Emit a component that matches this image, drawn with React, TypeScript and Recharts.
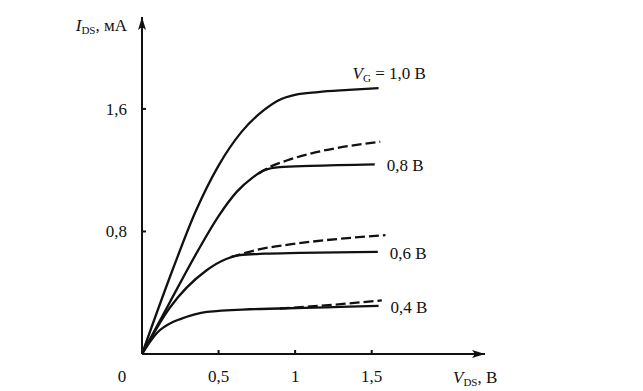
import React from 'react';
import { LineChart, Line, XAxis, YAxis } from 'recharts';

// V_G = 1.0 V (solid)
const vg10V = [0, 0.2, 0.35, 0.5, 0.65, 0.8, 0.9, 1.0, 1.15, 1.35, 1.545];
const vg10I = [0, 0.55, 0.93, 1.23, 1.45, 1.595, 1.66, 1.692, 1.71, 1.724, 1.736];
// V_G = 0.8 V
const vg08V = [0, 0.18, 0.36, 0.5, 0.62, 0.72, 0.8, 0.9, 1.1, 1.52];
const vg08I = [0, 0.335, 0.665, 0.9, 1.06, 1.15, 1.2, 1.22, 1.228, 1.238];
const vg08DashV = [0.76, 0.85, 0.967, 1.556];
const vg08DashI = [1.178, 1.228, 1.27, 1.386];
// V_G = 0.6 V
const vg06V = [0, 0.18, 0.42, 0.55, 0.64, 0.8, 1.03, 1.54];
const vg06I = [0, 0.3, 0.545, 0.62, 0.645, 0.655, 0.66, 0.667];
const vg06DashV = [0.58, 0.75, 0.967, 1.59];
const vg06DashI = [0.632, 0.68, 0.715, 0.776];
// V_G = 0.4 V
const vg04V = [0, 0.096, 0.205, 0.25, 0.423, 0.7, 0.9, 1.2, 1.545];
const vg04I = [0, 0.136, 0.21, 0.228, 0.275, 0.292, 0.297, 0.305, 0.314];
const vg04DashV = [0.9, 1.1, 1.566];
const vg04DashI = [0.297, 0.31, 0.35];

const xTicks = [0, 0.5, 1, 1.5];
const yTicks = [0.8, 1.6];
const xTickLabels = ['0', '0,5', '1', '1,5'];
const yTickLabels = ['0,8', '1,6'];

const toData = (v: number[], i: number[]) => v.map((x, k) => ({ v: x, i: i[k] }));

const FONT = '"Liberation Serif", "Times New Roman", serif';
const INK = '#111';

const XTick = (props: any) => {
  const { x, y, payload } = props;
  const idx = xTicks.indexOf(payload.value);
  const label = idx >= 0 ? xTickLabels[idx] : String(payload.value);
  if (payload.value === 0) {
    return (
      <text x={x - 20} y={y + 28} textAnchor="middle" fontFamily={FONT} fontSize={17} fill={INK}>
        {label}
      </text>
    );
  }
  return (
    <g>
      <line x1={x} y1={y} x2={x} y2={y - 4} stroke={INK} strokeWidth={2} />
      <text x={x} y={y + 28} textAnchor="middle" fontFamily={FONT} fontSize={17} fill={INK}>
        {label}
      </text>
    </g>
  );
};

const YTick = (props: any) => {
  const { x, y, payload } = props;
  const idx = yTicks.indexOf(payload.value);
  const label = idx >= 0 ? yTickLabels[idx] : String(payload.value);
  return (
    <g>
      <line x1={x} y1={y} x2={x + 4} y2={y} stroke={INK} strokeWidth={2} />
      <text x={x - 15} y={y + 6} textAnchor="end" fontFamily={FONT} fontSize={17} fill={INK}>
        {label}
      </text>
    </g>
  );
};

const YTitle = (props: any) => {
  const vb = props.viewBox || {};
  return (
    <text x={vb.x + vb.width - 15} y={vb.y + 14} textAnchor="end" fontFamily={FONT} fontSize={17} fill={INK}>
      <tspan fontStyle="italic">I</tspan>
      <tspan fontSize={11} dy={3}>DS</tspan>
      <tspan dy={-3}>, мА</tspan>
    </text>
  );
};

const XTitle = (props: any) => {
  const vb = props.viewBox || {};
  return (
    <text x={vb.x + vb.width - 32} y={vb.y + 29} textAnchor="start" fontFamily={FONT} fontSize={17} fill={INK}>
      <tspan fontStyle="italic">V</tspan>
      <tspan fontSize={11} dy={3}>DS</tspan>
      <tspan dy={-3}>, В</tspan>
    </text>
  );
};

const endLabel = (n: number, text: string, top: boolean) => (props: any) => {
  const { x, y, index } = props;
  if (index !== n - 1) return null;
  if (top) {
    return (
      <text key="lab" x={x - 26} y={y - 9} fontFamily={FONT} fontSize={17} fill={INK}>
        <tspan fontStyle="italic">V</tspan>
        <tspan fontSize={11} dy={3}>G</tspan>
        <tspan dy={-3}>{' = ' + text}</tspan>
      </text>
    );
  }
  return (
    <text key="lab" x={x + 12} y={y + 7} fontFamily={FONT} fontSize={17} fill={INK}>
      {text}
    </text>
  );
};

export default function App() {
  const lineProps = {
    type: 'monotone' as const,
    dataKey: 'i',
    stroke: INK,
    strokeWidth: 2.3,
    dot: false,
    isAnimationActive: false,
  };
  return (
    <div style={{ position: 'absolute', left: 0, top: 0, background: '#fff' }}>
      <LineChart width={643} height={391} margin={{ top: 17, right: 158, bottom: 7, left: 82 }}>
        <defs>
          <marker
            id="arrow"
            viewBox="0 0 13 8"
            refX="13"
            refY="4"
            markerWidth="13"
            markerHeight="8"
            markerUnits="userSpaceOnUse"
            orient="auto-start-reverse"
          >
            <path d="M0,0 L13,4 L0,8 L3,4 z" fill={INK} />
          </marker>
        </defs>
        <XAxis
          type="number"
          dataKey="v"
          domain={[0, 2.24]}
          ticks={xTicks}
          interval={0}
          allowDataOverflow
          height={30}
          tickSize={0}
          tickMargin={0}
          tickLine={false}
          axisLine={{ stroke: INK, strokeWidth: 2, markerEnd: 'url(#arrow)' } as any}
          tick={<XTick />}
          label={<XTitle />}
        />
        <YAxis
          type="number"
          domain={[0, 2.2]}
          ticks={yTicks}
          interval={0}
          allowDataOverflow
          width={60}
          tickSize={0}
          tickMargin={0}
          tickLine={false}
          axisLine={{ stroke: INK, strokeWidth: 2, markerStart: 'url(#arrow)' } as any}
          tick={<YTick />}
          label={<YTitle />}
        />
        <Line {...lineProps} data={toData(vg08DashV, vg08DashI)} strokeDasharray="10 4" />
        <Line {...lineProps} data={toData(vg06DashV, vg06DashI)} strokeDasharray="10 4" />
        <Line {...lineProps} data={toData(vg04DashV, vg04DashI)} strokeDasharray="10 4" />
        <Line {...lineProps} data={toData(vg10V, vg10I)} label={endLabel(vg10V.length, '1,0 В', true)} />
        <Line {...lineProps} data={toData(vg08V, vg08I)} label={endLabel(vg08V.length, '0,8 В', false)} />
        <Line {...lineProps} data={toData(vg06V, vg06I)} label={endLabel(vg06V.length, '0,6 В', false)} />
        <Line {...lineProps} data={toData(vg04V, vg04I)} label={endLabel(vg04V.length, '0,4 В', false)} />
      </LineChart>
    </div>
  );
}
